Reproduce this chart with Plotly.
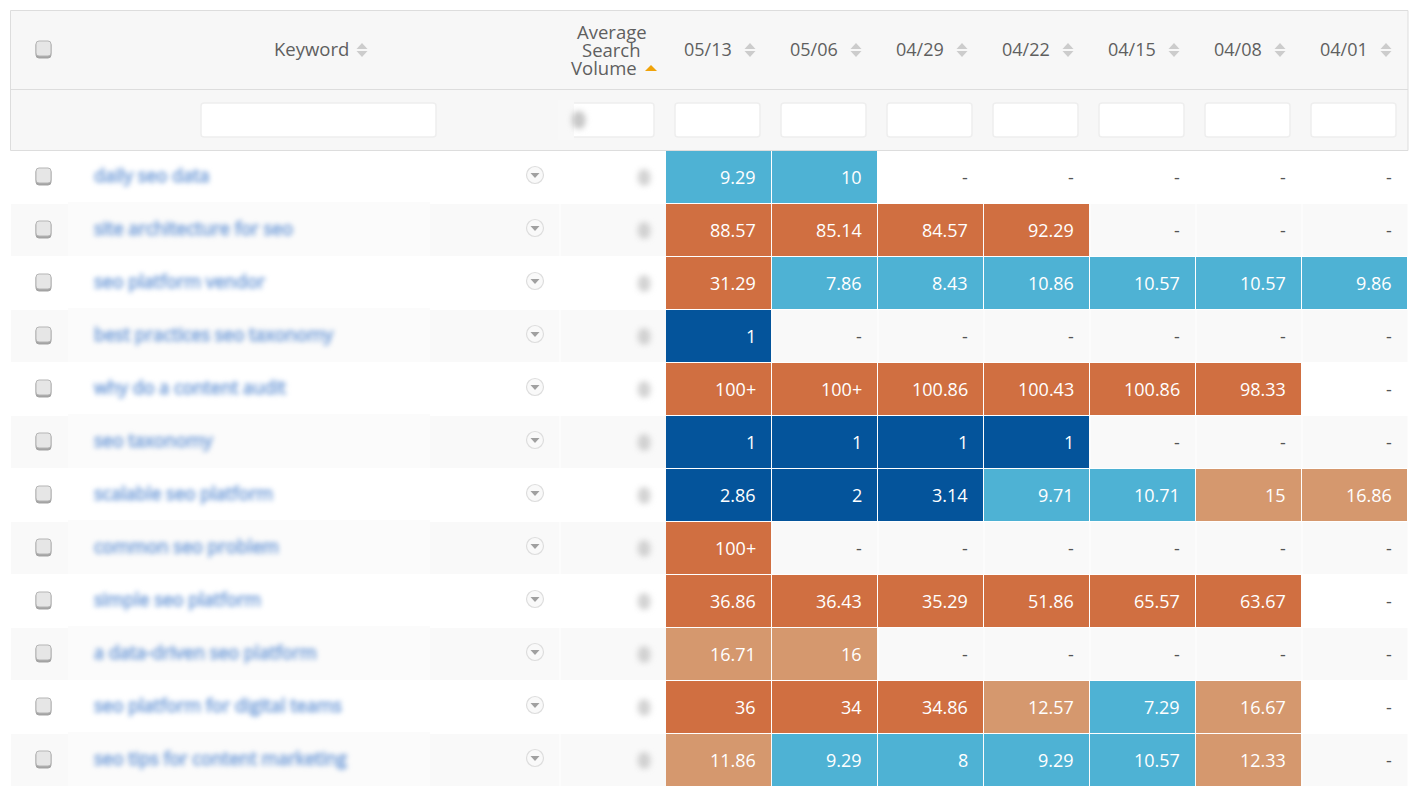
import plotly.graph_objects as go

W, H = 1425, 786
dates = ["05/13", "05/06", "04/29", "04/22", "04/15", "04/08", "04/01"]
keywords = ["daily seo data", "site architecture for seo", "seo platform vendor",
            "best practices seo taxonomy", "why do a content audit", "seo taxonomy",
            "scalable seo platform", "common seo problem", "simple seo platform",
            "a data-driven seo platform", "seo platform for digital teams",
            "seo tips for content marketing"]
row1 = [9.29, 10, None, None, None, None, None]
row2 = [88.57, 85.14, 84.57, 92.29, None, None, None]
row3 = [31.29, 7.86, 8.43, 10.86, 10.57, 10.57, 9.86]
row4 = [1, None, None, None, None, None, None]
row5 = [100, 100, 100.86, 100.43, 100.86, 98.33, None]
row6 = [1, 1, 1, 1, None, None, None]
row7 = [2.86, 2, 3.14, 9.71, 10.71, 15, 16.86]
row8 = [100, None, None, None, None, None, None]
row9 = [36.86, 36.43, 35.29, 51.86, 65.57, 63.67, None]
row10 = [16.71, 16, None, None, None, None, None]
row11 = [36, 34, 34.86, 12.57, 7.29, 16.67, None]
row12 = [11.86, 9.29, 8, 9.29, 10.57, 12.33, None]
rows = [row1, row2, row3, row4, row5, row6, row7, row8, row9, row10, row11, row12]
capped = {(4, 0), (4, 1), (7, 0)}  # cells shown as "100+"
DARK, BLUE, PEACH, ORANGE = "#04549b", "#4eb2d4", "#d5986e", "#d06f41"
ZMAX = 110.0
steps = [(0, 3.5, DARK), (3.5, 11, BLUE), (11, 30, PEACH), (30, ZMAX, ORANGE)]
colorscale = []
for a, b, c in steps:
    colorscale += [[a / ZMAX, c], [b / ZMAX, c]]

px = lambda x: x / W
py = lambda y: 1 - y / H
shapes, ann = [], []


def rect(x0, y0, x1, y1, fill, line=None, lw=0, layer="below"):
    shapes.append(dict(type="rect", xref="paper", yref="paper", x0=px(x0), x1=px(x1), y0=py(y0), y1=py(y1),
                       fillcolor=fill, line=dict(color=line or fill, width=lw), layer=layer))


def rrect(x0, y0, x1, y1, r, fill, line, lw=1):
    X = lambda v: px(v)
    Y = lambda v: py(v)
    d = (f"M{X(x0+r)},{Y(y0)} L{X(x1-r)},{Y(y0)} Q{X(x1)},{Y(y0)} {X(x1)},{Y(y0+r)} "
         f"L{X(x1)},{Y(y1-r)} Q{X(x1)},{Y(y1)} {X(x1-r)},{Y(y1)} L{X(x0+r)},{Y(y1)} "
         f"Q{X(x0)},{Y(y1)} {X(x0)},{Y(y1-r)} L{X(x0)},{Y(y0+r)} Q{X(x0)},{Y(y0)} {X(x0+r)},{Y(y0)} Z")
    shapes.append(dict(type="path", xref="paper", yref="paper", path=d, fillcolor=fill,
                       line=dict(color=line, width=lw), layer="below"))


def tri(cx, y0, y1, half, color):
    """Triangle with its base on y1 and apex on y0."""
    d = f"M{px(cx-half)},{py(y1)} L{px(cx+half)},{py(y1)} L{px(cx)},{py(y0)} Z"
    shapes.append(dict(type="path", xref="paper", yref="paper", path=d, fillcolor=color,
                       line=dict(width=0), layer="below"))


def sort_arrows(cx, cy):
    tri(cx, cy - 7, cy - 1, 5.5, "#cccccc")
    tri(cx, cy + 7, cy + 1, 5.5, "#cccccc")


def checkbox(cy):
    rrect(36, cy - 7, 51, cy + 9, 3, "#a3a3a3", "#a3a3a3")
    rrect(36, cy - 8, 51, cy + 7, 3, "#e6e6e6", "#b5b5b5")


def text(x, y, s, size=18, color="#555555", anchor="center", weight=None):
    f = dict(family="Open Sans", size=size, color=color)
    if weight:
        f["weight"] = weight
    ann.append(dict(xref="paper", yref="paper", x=px(x), y=py(y - 1), text=s, showarrow=False,
                    xanchor=anchor, yanchor="middle", font=f, borderpad=0, borderwidth=0))


# header block
rect(10.5, 10.5, 1408, 150.5, "#f7f7f7", "#dddddd", 1)
shapes.append(dict(type="line", xref="paper", yref="paper", x0=px(11), x1=px(1408), y0=py(89.5), y1=py(89.5),
                   line=dict(color="#dddddd", width=1), layer="below"))
rrect(201, 103, 436, 137, 3, "#ffffff", "#eeeeee", 1.5)
rrect(570, 103, 654, 137, 3, "#ffffff", "#eeeeee", 1.5)
rect(558, 100, 574, 140, "#f8f8f8")
col_left = [666 + 106 * i for i in range(7)]
for x in col_left:
    rrect(x + 9, 103, x + 94, 137, 3, "#ffffff", "#eeeeee", 1.5)
    sort_arrows(x + 84, 50)
checkbox(49)
sort_arrows(362, 50)
tri(651, 65, 71, 6, "#f0a30a")

# body chrome
for i in range(12):
    top = 151 + 53 * i
    if i % 2:
        rect(11, top, 1408, top + 52, "#f9f9f9")
        rect(68, top - 2, 430, top + 52, "#fbfbfb")
        for xl in [559.5] + [x + 105.5 for x in col_left]:
            rect(xl, top, xl + 1, top + 52, "#ffffff")
    checkbox(176 + 53 * i)
    shapes.append(dict(type="circle", xref="paper", yref="paper", x0=px(526.5), x1=px(543.5),
                       y0=py(166.5 + 53 * i), y1=py(183.5 + 53 * i), fillcolor="#f9f9f9",
                       line=dict(color="#dddddd", width=1.2), layer="below"))
    tri(535, 178 + 53 * i, 173 + 53 * i, 4.5, "#a0a0a0")

# blurred texts come first so the page script can find them by index
for i, k in enumerate(keywords):
    text(94, 176 + 53 * i, k, color="#7fa6dc", anchor="left")
n_kw = len(ann)
for i in range(12):
    text(644, 178 + 53 * i, "0", size=21, color="#bdbdbd", weight=800)
text(578, 120, "0", size=23, color="#adadad", weight=800)
n_blur = len(ann)

HEAD = "#5f5f5f"
text(311, 50, "Keyword", size=18.5, color=HEAD, weight=500)
text(611.5, 32.4, "Average", size=18.5, color=HEAD, weight=500)
text(611.5, 51, "Search", size=18.5, color=HEAD, weight=500)
text(604, 68.4, "Volume", size=18.5, color=HEAD, weight=500)
for x, d in zip(col_left, dates):
    text(x + 42, 50, d, color=HEAD)

# cell labels, placed from the data axes
for r, vals in enumerate(rows):
    for c, v in enumerate(vals):
        label = "-" if v is None else ("100+" if (r, c) in capped else f"{v:g}")
        ann.append(dict(xref="x", yref="y", x=dates[c], y=keywords[r], text=label, showarrow=False,
                        xanchor="right", yanchor="middle", xshift=38.5, yshift=0.5,
                        font=dict(family="Open Sans", size=18, color="#555555" if v is None else "#ffffff")))

fig = go.Figure(go.Heatmap(z=rows, x=dates, y=keywords, colorscale=colorscale, zmin=0, zmax=ZMAX,
                           showscale=False, xgap=1, ygap=1, hoverongaps=False))
fig.update_layout(width=W, height=H, margin=dict(l=0, r=0, t=0, b=0), autosize=False,
                  paper_bgcolor="#ffffff", plot_bgcolor="rgba(0,0,0,0)", shapes=shapes, annotations=ann,
                  font=dict(family="Open Sans"),
                  xaxis=dict(domain=[666 / W, 1408 / W], visible=False, type="category"),
                  yaxis=dict(domain=[0, (H - 151) / H], visible=False, type="category",
                             range=[11.48, -0.5]))
post = """
document.body.style.margin='0';document.documentElement.style.overflow='hidden';
var kwN=%d, blurN=%d;
document.querySelectorAll('.annotation').forEach(function(a){
  var i=+a.getAttribute('data-index');
  if(i<kwN){
    a.style.filter='blur(2.9px)';
    var t=a.querySelector('text');
    if(t){t.style.stroke='#7fa6dc';t.style.strokeWidth='1px';}
  }
  else if(i<blurN){a.style.filter='blur(3px)';}
});
""" % (n_kw, n_blur)
fig.write_html("out.html", post_script=post, config={"displayModeBar": False})
